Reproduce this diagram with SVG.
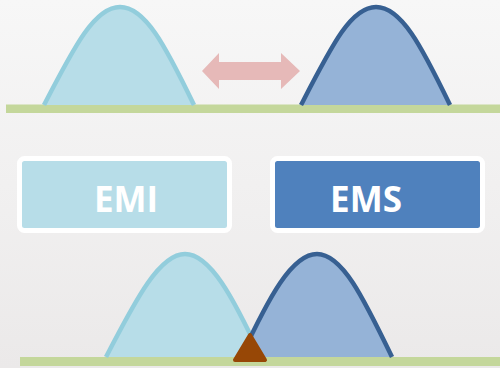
<svg xmlns="http://www.w3.org/2000/svg" width="500" height="368" viewBox="0 0 500 368">
<defs>
<linearGradient id="bg" x1="0" y1="0" x2="0" y2="1">
<stop offset="0" stop-color="#f7f7f7"/>
<stop offset="1" stop-color="#ebe9e9"/>
</linearGradient>
<style>
.base{fill:#c4d79b}
.emi{fill:#b7dde8;stroke:#92cddc;stroke-width:4.5}
.ems{fill:#95b3d7;stroke:#376092;stroke-width:4.5}
.fillonly{stroke:none}
.line{fill:none}
.lbl{font-family:"Open Sans","Liberation Sans",sans-serif;font-weight:700;font-size:35px;fill:#ffffff;text-anchor:middle}
</style>
</defs>
<rect width="500" height="368" fill="url(#bg)"/>
<g id="top-row">
<rect class="base" x="6" y="104.5" width="494" height="8.5"/>
<g id="top-emi-curve">
<path class="emi fillonly" d="M44,105 C75,45 95,7 120,7 C145,7 165,45 194,105 Z"/>
<path class="emi line" d="M44,105 C75,45 95,7 120,7 C145,7 165,45 194,105"/>
</g>
<g id="top-ems-curve">
<path class="ems fillonly" d="M301,105 C332,45 351,7 376,7 C401,7 421,45 450,105 Z"/>
<path class="ems line" d="M301,105 C332,45 351,7 376,7 C401,7 421,45 450,105"/>
</g>
</g>
<g id="connectors">
<polygon id="double-arrow" fill="#e6b9b8" points="202,71 219,53 219,62 281,62 281,53 300,71 281,89 281,80 219,80 219,89"/>
</g>
<g id="emi-box">
<rect x="19.5" y="158.5" width="210" height="72" rx="5" fill="#b7dde8" stroke="#ffffff" stroke-width="5"/>
<text class="lbl" x="126" y="212">EMI</text>
</g>
<g id="ems-box">
<rect x="272.5" y="158.5" width="210" height="72" rx="5" fill="#4f81bd" stroke="#ffffff" stroke-width="5"/>
<text class="lbl" x="366" y="212">EMS</text>
</g>
<g id="bottom-row">
<rect class="base" x="20" y="357" width="480" height="9"/>
<g id="bottom-emi-curve">
<path class="emi fillonly" d="M106,357 C137,297 160,254 185,254 C210,254 233,297 261,357 Z"/>
<path class="emi line" d="M106,357 C137,297 160,254 185,254 C210,254 233,297 261,357"/>
</g>
<g id="bottom-ems-curve">
<path class="ems fillonly" d="M241,357 C269,297 292,254 317,254 C342,254 363,297 392,357 Z"/>
<path class="ems line" d="M241,357 C269,297 292,254 317,254 C342,254 363,297 392,357"/>
</g>
<path id="overlap-marker" d="M250,335 L265,360 L235,360 Z" fill="#974706" stroke="#974706" stroke-width="4" stroke-linejoin="round"/>
</g>
</svg>
